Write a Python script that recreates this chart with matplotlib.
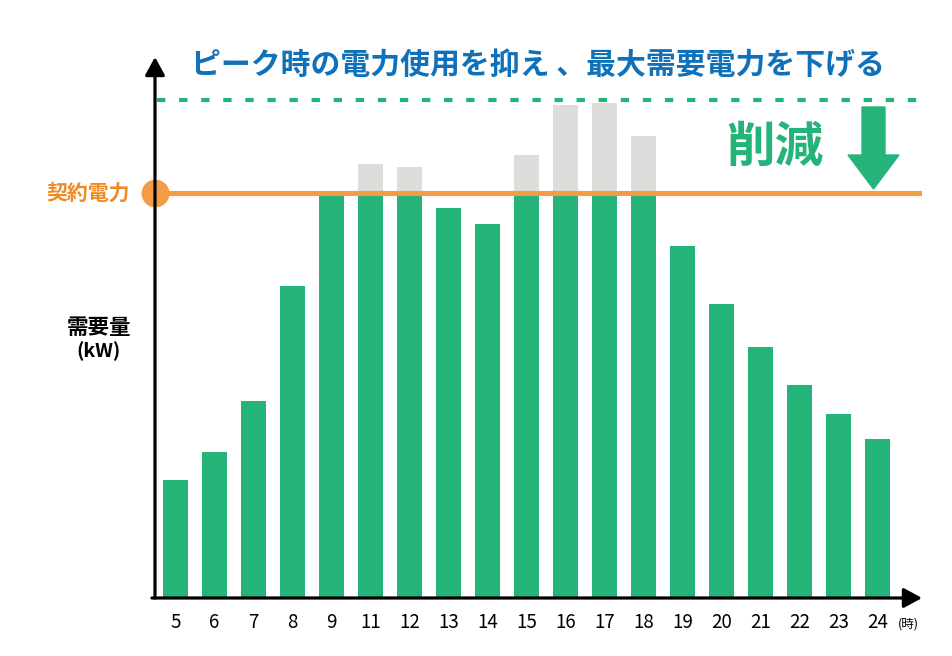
import matplotlib
matplotlib.use("Agg")
import matplotlib.pyplot as plt
from matplotlib.patches import Polygon

plt.rcParams['font.family'] = ['Noto Sans CJK JP', 'DejaVu Sans']

# hourly demand (kW, arbitrary units)
hours = ['5', '6', '7', '8', '9', '11', '12', '13', '14', '15',
         '16', '17', '18', '19', '20', '21', '22', '23', '24']
demand = [118, 146, 197, 312, 405, 434, 431, 390, 374, 443,
          493, 495, 462, 352, 294, 251, 213, 184, 159]
contract = 405.5     # 契約電力
peak = 498.5         # 最大需要電力 (dashed line)

GREEN = '#24b47a'
GRAY = '#dddddb'
ORANGE = '#f39b45'
BLUE = '#0f71b9'

W, H = 952, 656
fig = plt.figure(figsize=(W / 100, H / 100), dpi=100)
# axes box in pixels: left 155, right 922, bottom 598, top 57
ax = fig.add_axes([155 / W, (H - 598) / H, (922 - 155) / W, (598 - 57) / H])

step = 39.0
x = list(range(len(hours)))
green_h = [min(d, contract) for d in demand]
gray_h = [max(d - contract, 0) for d in demand]

ax.bar(x, green_h, width=25 / step, color=GREEN, zorder=2)
ax.bar(x, gray_h, width=25 / step, bottom=green_h, color=GRAY, zorder=1)

ax.set_xlim(-20.5 / step, (922 - 175.5) / step)
ax.set_ylim(0, 541)

# contract line + dot
ax.axhline(contract, color=ORANGE, lw=3.7, zorder=3)
ax.plot([0], [contract], 'o', transform=ax.get_yaxis_transform(), ms=19,
        color=ORANGE, clip_on=False, zorder=5)
# peak dashed line
ax.plot([0.003, 1], [peak, peak], transform=ax.get_yaxis_transform(),
        color=GREEN, lw=3, ls=(0, (2, 3.3)), zorder=3, clip_on=False)

# axes with arrows
for sp in ax.spines.values():
    sp.set_visible(False)
arrow = dict(arrowstyle='-|>,head_length=1.1,head_width=0.6', lw=2.3,
             color='black', shrinkA=0, shrinkB=0, mutation_scale=10)
ax.annotate('', xy=(0, 1), xytext=(0, 0), xycoords='axes fraction',
            arrowprops=arrow, zorder=6)
ax.annotate('', xy=(1, 0), xytext=(-0.004, 0), xycoords='axes fraction',
            arrowprops=arrow, zorder=6)

ax.set_yticks([])
ax.set_xticks(x)
ax.set_xticklabels(hours, fontsize=13.5)
ax.tick_params(axis='x', length=0, pad=10)
ax.text(908 / W, (H - 624) / H, '(時)', transform=fig.transFigure,
        fontsize=9, ha='center', va='center')

# texts
fig.text(538 / W, 1 - 65 / H, 'ピーク時の電力使用を抑え 、最大需要電力を下げる',
         color=BLUE, fontsize=21.5, fontweight='bold', ha='center', va='center')
fig.text(775 / W, 1 - 147 / H, '削減', color=GREEN, fontsize=35,
         fontweight='bold', ha='center', va='center')
fig.text(88 / W, 1 - 193 / H, '契約電力', color='#f08a24', fontsize=15,
         fontweight='bold', ha='center', va='center')
fig.text(99 / W, 1 - 327 / H, '需要量', color='black', fontsize=15.5,
         fontweight='bold', ha='center', va='center')
fig.text(99 / W, 1 - 351 / H, '(kW)', color='black', fontsize=14,
         fontweight='bold', ha='center', va='center')

# green down arrow (pixels -> inches)
ax_pts = [(862, 107), (885, 107), (885, 155), (899, 155), (873.5, 189),
          (848, 155), (862, 155)]
poly = Polygon([(px / 100, (H - py) / 100) for px, py in ax_pts], closed=True,
               color=GREEN, transform=fig.dpi_scale_trans)
fig.patches.append(poly)

fig.savefig('out.png', dpi=100)
